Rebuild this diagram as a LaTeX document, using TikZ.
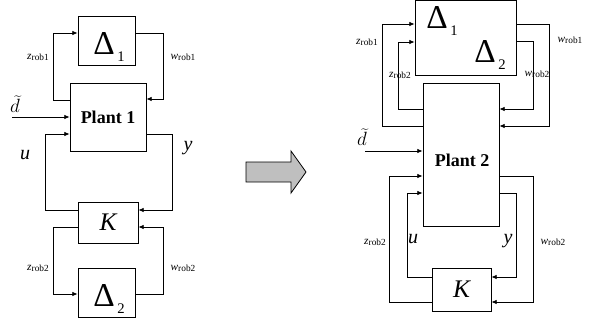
\documentclass[tikz,border=0pt]{standalone}
\usepackage{fontspec}
\setmainfont{Liberation Serif}
\usetikzlibrary{arrows.meta,positioning,calc}

\newcommand{\px}{0.75pt}
% robust signal labels
\newcommand{\rob}[2]{{\fontsize{8.5}{9}\selectfont\textit{#1}\raisebox{-0.6pt}{\fontsize{7}{7}\selectfont rob#2}}}
\newcommand{\Dlt}[1]{{\fontsize{25}{25}\selectfont Δ}\hspace{2pt}\raisebox{-5pt}{\fontsize{11}{11}\selectfont #1}}

\tikzset{
  blk/.style={draw,line width=0.6pt,inner sep=0pt},
  sig/.style={line width=0.6pt,-{Latex[length=4pt,width=3.5pt]}},
  wire/.style={line width=0.6pt},
  lbl/.style={inner sep=0pt},
}

\begin{document}
\begin{tikzpicture}[x=0.75pt,y=-0.75pt]
\useasboundingbox (0,0) rectangle (595,325);

%% left: Plant 1 with two uncertainty blocks
\node[blk,minimum width=57*\px,minimum height=49*\px] (dA1) at (106.5,40.5) {};
\node[lbl] (dA1t) at (109,47) {\Dlt{1}};
\node[blk,minimum width=76*\px,minimum height=68*\px,font=\fontsize{13.5}{14}\selectfont\bfseries] (plantA) at (108,117) {Plant 1};
\node[blk,minimum width=60*\px,minimum height=41*\px,font=\fontsize{19}{19}\selectfont\itshape] (kA) at (108,222.5) {K};
\node[blk,minimum width=57*\px,minimum height=49*\px] (dA2) at (106.5,292.5) {};
\node[lbl] (dA2t) at (109,299) {\Dlt{2}};

\draw[sig] (plantA.west|-0,100) -| (53,33) -- (dA1.west|-0,33);
\draw[sig] (dA1.east|-0,33) -| (163,99) -- (plantA.east|-0,99);
\coordinate (dinA) at (12,117);
\draw[sig] (dinA) -- (plantA.west|-0,117);
\draw[sig] (kA.west|-0,210) -| (45,134) -- (plantA.west|-0,134);
\draw[sig] (plantA.east|-0,134) -| (172,210) -- (kA.east|-0,210);
\draw[sig] (kA.west|-0,227) -| (53,294) -- (dA2.west|-0,294);
\draw[sig] (dA2.east|-0,294) -| (163,227) -- (kA.east|-0,227);

\node[lbl] (zA1) at (38,57) {\rob{z}{1}};
\node[lbl] (wA1) at (183,57) {\rob{w}{1}};
\node[lbl] (zA2) at (38,268) {\rob{z}{2}};
\node[lbl] (wA2) at (183,268) {\rob{w}{2}};
\node[lbl,font=\fontsize{15}{15}\selectfont] (dtA) at (15,104) {$\widetilde{d}$};
\node[lbl,font=\fontsize{15}{15}\selectfont\itshape] (uA) at (25,155) {u};
\node[lbl,font=\fontsize{15}{15}\selectfont\itshape] (yA) at (188,148) {y};

%% transformation arrow
\draw[line width=0.6pt,fill=black!25] (246,162) -- (291,162) -- (291,151) -- (306,172)
  -- (291,193) -- (291,182) -- (246,182) -- cycle;

%% right: Plant 2 with one block uncertainty
\node[blk,minimum width=101*\px,minimum height=74.5*\px] (dB) at (465.5,37.75) {};
\node[lbl] (dB1) at (442,21) {\Dlt{1}};
\node[lbl] (dB2) at (490,55) {\Dlt{2}};
\node[blk,minimum width=76*\px,minimum height=143*\px] (plantB) at (461,154.5) {};
\node[lbl,font=\fontsize{13.5}{14}\selectfont\bfseries] (plantBt) at (462,160) {Plant 2};
\node[blk,minimum width=59*\px,minimum height=43*\px,font=\fontsize{19}{19}\selectfont\itshape] (kB) at (461.5,289.5) {K};

\draw[sig] (plantB.west|-0,126) -| (382,24) -- (dB.west|-0,24);
\draw[sig] (plantB.west|-0,109) -| (398,42) -- (dB.west|-0,42);
\draw[sig] (dB.east|-0,24) -| (549,126) -- (plantB.east|-0,126);
\draw[sig] (dB.east|-0,41) -| (533,109) -- (plantB.east|-0,109);
\coordinate (dinB) at (365,151);
\draw[sig] (dinB) -- (plantB.west|-0,151);
\draw[sig] (kB.west|-0,302) -| (389,176) -- (plantB.west|-0,176);
\draw[sig] (kB.west|-0,277) -| (407,193) -- (plantB.west|-0,193);
\draw[sig] (plantB.east|-0,193) -| (516,277) -- (kB.east|-0,277);
\draw[sig] (plantB.east|-0,176) -| (533,302) -- (kB.east|-0,302);

\node[lbl] (zB1) at (367,42) {\rob{z}{1}};
\node[lbl] (zB2) at (400,75) {\rob{z}{2}};
\node[lbl] (wB1) at (570,40) {\rob{w}{1}};
\node[lbl] (wB2) at (537,74) {\rob{w}{2}};
\node[lbl,font=\fontsize{15}{15}\selectfont] (dtB) at (362,137) {$\widetilde{d}$};
\node[lbl] (zB3) at (375,242) {\rob{z}{2}};
\node[lbl] (wB3) at (553,242) {\rob{w}{2}};
\node[lbl,font=\fontsize{15}{15}\selectfont\itshape] (uB) at (413,239) {u};
\node[lbl,font=\fontsize{15}{15}\selectfont\itshape] (yB) at (508,241) {y};
\end{tikzpicture}
\end{document}
